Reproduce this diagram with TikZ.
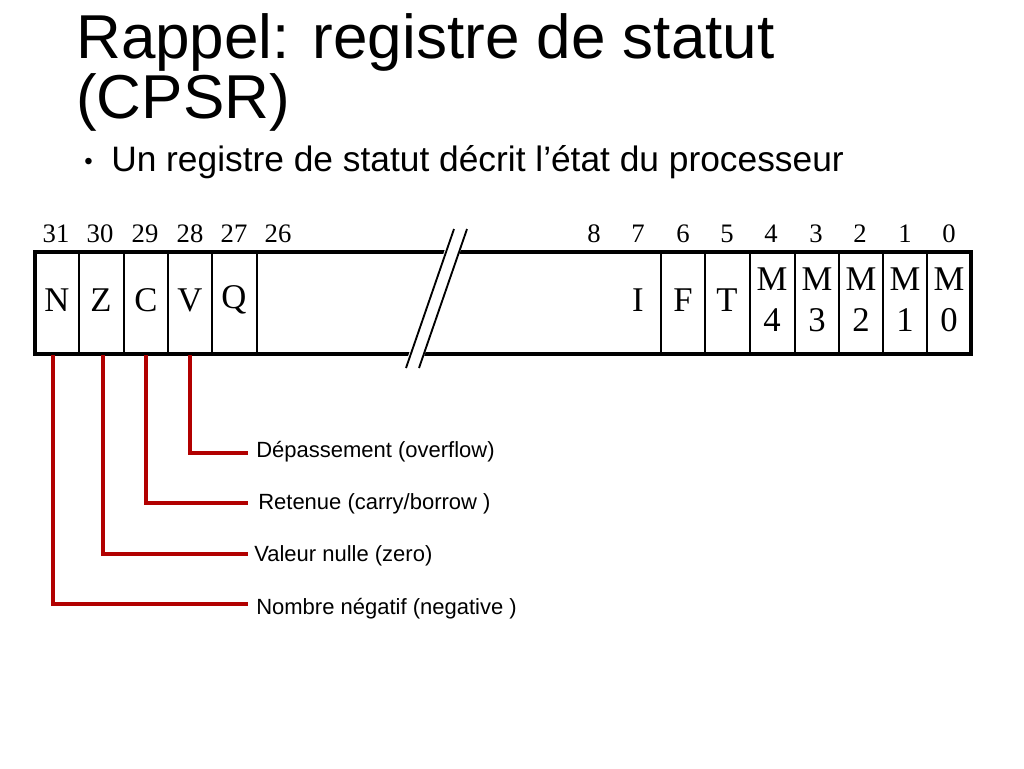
\documentclass[tikz,border=0pt]{standalone}
\usepackage{fontspec}
\setmainfont{Liberation Sans}
\newfontfamily\tms{Liberation Serif}
\begin{document}
\begin{tikzpicture}[x=0.75pt,y=-0.75pt,
  num/.style={font=\tms\fontsize{20}{20}\selectfont,anchor=center,inner sep=0},
  bit/.style={font=\tms\fontsize{26}{26}\selectfont,anchor=center,inner sep=0},
  lab/.style={font=\fontsize{16.5}{16.5}\selectfont,anchor=west,inner sep=0},
  flag/.style={draw=red!70!black,line width=2.6pt}]
\useasboundingbox (0,0) rectangle (1024,768);
\node[anchor=west,inner sep=0,font=\fontsize{46.5}{46.5}\selectfont] (t1) at (76,42) {Rappel: registre de statut};
\node[anchor=west,inner sep=0,font=\fontsize{46.5}{46.5}\selectfont] (t2) at (76,102) {(CPSR)};
\node[anchor=west,inner sep=0,font=\fontsize{18}{18}\selectfont] (b) at (84,164) {•};
\node[anchor=west,inner sep=0,font=\fontsize{26.5}{26.5}\selectfont] (bt) at (111,162) {Un registre de statut décrit l’état du processeur};
% register box
\draw[line width=3pt] (35,252) rectangle (971,354);
\foreach \x in {79,124,168,212,257,661,705,750,795,839,883,927}
  \draw[line width=0.8pt] (\x,252) -- (\x,354);
% slash
\fill[white] (452,229) -- (468,229) -- (420,368) -- (404,368) -- cycle;
\draw[line width=1.4pt] (454,229) -- (406,368);
\draw[line width=1.4pt] (467,229) -- (419,368);
% numbers
\foreach \x/\n in {56/31,100/30,145/29,190/28,234/27,278/26,594/8,638/7,683/6,727/5,771/4,816/3,860/2,905/1,949/0}
  \node[num] (n\n) at (\x,234) {\n};
% bits
\foreach \x/\l in {57/N,101/Z,146/C,190/V,234/Q,638/I,683/F,727/T}
  \node[bit] (b\l) at (\x,300) {\l};
\foreach \x/\d in {772/4,817/3,861/2,905/1,949/0}{
  \node[bit] (m\d) at (\x,279) {M};
  \node[bit] (d\d) at (\x,320) {\d};}
% labels
\node[lab] (lv) at (256,452) {Dépassement (overflow)};
\node[lab] (lc) at (258,504) {Retenue (carry/borrow )};
\node[lab] (lz) at (254,556) {Valeur nulle (zero)};
\node[lab] (ln) at (256,609) {Nombre négatif (negative )};
\coordinate (ev) at (248,453); \coordinate (ec) at (248,503);
\coordinate (ez) at (248,554); \coordinate (en) at (248,604);
\draw[flag] (190,355) |- (ev);
\draw[flag] (146,355) |- (ec);
\draw[flag] (103,355) |- (ez);
\draw[flag] (53,355) |- (en);
\end{tikzpicture}
\end{document}
